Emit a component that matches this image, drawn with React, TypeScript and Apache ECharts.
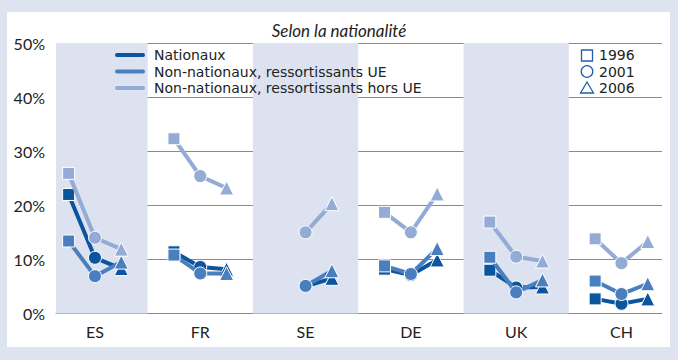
import React, { useEffect, useRef } from "react";
import * as echarts from "echarts";

const countries = ["ES", "FR", "SE", "DE", "UK", "CH"];
const years = ["1996", "2001", "2006"];
// values per country: [1996, 2001, 2006] in %
const nationaux = [[22.0, 10.3, 8.3], [11.4, 8.6, 8.2], [null, 5.0, 6.5], [8.2, 7.1, 9.9], [8.0, 4.8, 4.9], [2.7, 1.8, 2.7]];
const nonNatUE = [[13.4, 6.9, 9.5], [10.8, 7.4, 7.4], [null, 5.1, 7.9], [8.8, 7.3, 12.0], [10.4, 3.9, 6.2], [6.0, 3.6, 5.5]];
const nonNatHorsUE = [[25.9, 14.0, 11.9], [32.3, 25.4, 23.2], [null, 15.0, 20.3], [18.7, 15.0, 22.1], [16.9, 10.5, 9.7], [13.8, 9.3, 13.3]];
const groupNames = ["Nationaux", "Non-nationaux, ressortissants UE", "Non-nationaux, ressortissants hors UE"];
const yTicks = [0, 10, 20, 30, 40, 50];

const COLORS = ["#0b559f", "#4a7fbf", "#94abd6"];
const BAND = "#dce2ef";
const BG = "#dde3ef";
const FONT = "Lato, 'DejaVu Sans', sans-serif";
const LEGEND_FONT = "'DejaVu Sans', sans-serif";
const TEXT = "#222222";
const X_MIN = -0.37;
const X_MAX = 5.385;
const OFFSET = 0.25;
const SYMBOLS = ["rect", "circle", "triangle"];
const SIZES = [12, 13, 14];

export default function App() {
  const ref = useRef<HTMLDivElement>(null);
  useEffect(() => {
    document.body.style.margin = "0";
    const chart = echarts.init(ref.current!, undefined, { renderer: "svg" });
    const groups = [nationaux, nonNatUE, nonNatHorsUE];
    const series: any[] = [];
    series.push({
      type: "line",
      data: [],
      z: -1,
      silent: true,
      markArea: {
        silent: true,
        itemStyle: { color: BAND },
        data: [
          [{ xAxis: X_MIN }, { xAxis: 0.5 }],
          [{ xAxis: 1.5 }, { xAxis: 2.5 }],
          [{ xAxis: 3.5 }, { xAxis: 4.5 }],
        ],
      },
    });
    groups.forEach((g, gi) => {
      g.forEach((vals, ci) => {
        const data: any[] = [];
        vals.forEach((v, yi) => {
          if (v === null) return;
          data.push({
            value: [ci + (yi - 1) * OFFSET, v],
            symbol: SYMBOLS[yi],
            symbolSize: SIZES[yi],
          });
        });
        series.push({
          type: "line",
          name: groupNames[gi] + " " + countries[ci],
          data,
          z: 3 + gi,
          lineStyle: { color: COLORS[gi], width: 4 },
          itemStyle: { color: COLORS[gi], borderColor: "#ffffff", borderWidth: 1 },
          showAllSymbol: true,
          clip: false,
        });
      });
    });

    const legendY = [55, 71.5, 88];
    const graphic: any[] = [
      { type: "rect", z: -100, shape: { x: 7, y: 12, width: 663, height: 335 }, style: { fill: "#ffffff" } },
      {
        type: "text", x: 339, y: 30, z: 10,
        style: { text: "Selon la nationalité", font: `italic 17px ${FONT}`, fill: TEXT, textAlign: "center", textVerticalAlign: "middle" },
      },
    ];
    groupNames.forEach((n, i) => {
      graphic.push({ type: "line", z: 10, shape: { x1: 117, y1: legendY[i], x2: 143, y2: legendY[i] }, style: { stroke: COLORS[i], lineWidth: 4, lineCap: "round" } });
      graphic.push({ type: "text", z: 10, x: 154, y: legendY[i], style: { text: n, font: `14px ${LEGEND_FONT}`, fill: TEXT, textVerticalAlign: "middle" } });
    });
    const symColor = "#1f5fa9";
    graphic.push({ type: "rect", z: 10, shape: { x: 581.5, y: 50, width: 11, height: 11 }, style: { fill: "none", stroke: symColor, lineWidth: 1.3 } });
    graphic.push({ type: "circle", z: 10, shape: { cx: 587, cy: 71.5, r: 5.8 }, style: { fill: "none", stroke: symColor, lineWidth: 1.3 } });
    graphic.push({ type: "polygon", z: 10, shape: { points: [[587, 82], [593.5, 93], [580.5, 93]] }, style: { fill: "none", stroke: symColor, lineWidth: 1.3 } });
    years.forEach((y, i) => {
      graphic.push({ type: "text", z: 10, x: 599, y: legendY[i], style: { text: y, font: `14px ${LEGEND_FONT}`, fill: TEXT, textVerticalAlign: "middle" } });
    });

    chart.setOption({
      animation: false,
      backgroundColor: BG,
      textStyle: { fontFamily: FONT },
      grid: { left: 56, right: 16, top: 43, bottom: 46.5 },
      xAxis: {
        type: "value",
        min: X_MIN,
        max: X_MAX,
        splitLine: { show: false },
        axisTick: { show: false },
        axisLine: { show: true, lineStyle: { color: "#8a8a8a", width: 1 } },
        axisLabel: {
          customValues: [0, 1, 2, 3, 4, 5],
          formatter: (v: number) => countries[Math.round(v)] ?? "",
          fontSize: 16,
          color: TEXT,
          fontFamily: FONT,
          margin: 10,
        },
      },
      yAxis: {
        type: "value",
        min: yTicks[0],
        max: yTicks[yTicks.length - 1],
        interval: 10,
        axisLine: { show: false },
        axisTick: { show: false },
        splitLine: { show: true, lineStyle: { color: "#8a8a8a", width: 1 } },
        axisLabel: { formatter: "{value}%", fontSize: 16, color: TEXT, fontFamily: FONT, margin: 11 },
      },
      graphic,
      series,
    });
    return () => chart.dispose();
  }, []);
  return <div ref={ref} style={{ width: 678, height: 360 }} />;
}
